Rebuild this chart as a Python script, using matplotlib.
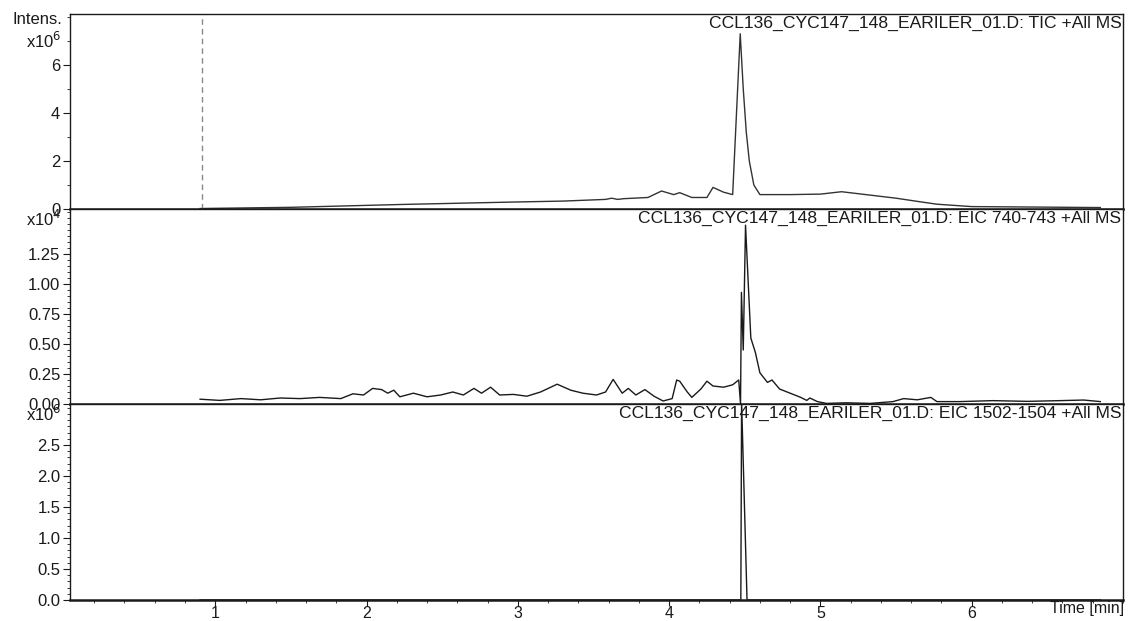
import numpy as np
import matplotlib
matplotlib.use("Agg")
import matplotlib.pyplot as plt
from matplotlib.ticker import MultipleLocator, FixedLocator, FormatStrFormatter

plt.rcParams['font.family'] = ['Liberation Sans', 'DejaVu Sans']

# TIC +All MS (intensity in 1e6)
tic_t = [0.90, 1.50, 2.24, 2.97, 3.30, 3.58, 3.62, 3.66, 3.70, 3.86, 3.95, 4.03, 4.07,
         4.15, 4.25, 4.29, 4.36, 4.42, 4.47, 4.49, 4.51, 4.53, 4.56, 4.60, 4.80, 5.00,
         5.14, 5.30, 5.50, 5.66, 5.77, 6.00, 6.44, 6.85]
tic_v = [0.02, 0.07, 0.19, 0.29, 0.33, 0.40, 0.45, 0.40, 0.43, 0.48, 0.75, 0.60, 0.68,
         0.48, 0.48, 0.90, 0.70, 0.60, 7.30, 5.00, 3.20, 2.00, 1.00, 0.60, 0.60, 0.62,
         0.72, 0.60, 0.45, 0.30, 0.20, 0.10, 0.08, 0.06]

# EIC 740-743 +All MS (intensity in 1e4)
eic1_t = [0.90, 1.03, 1.17, 1.30, 1.43, 1.56, 1.69, 1.83, 1.91, 1.98, 2.04, 2.10, 2.14,
          2.18, 2.22, 2.31, 2.40, 2.49, 2.57, 2.64, 2.71, 2.76, 2.82, 2.88, 2.97, 3.06,
          3.15, 3.26, 3.35, 3.43, 3.52, 3.58, 3.63, 3.69, 3.73, 3.78, 3.84, 3.90, 3.96,
          4.02, 4.05, 4.07, 4.12, 4.15, 4.21, 4.25, 4.29, 4.36, 4.42, 4.46, 4.472, 4.478,
          4.49, 4.505, 4.54, 4.57, 4.60, 4.65, 4.68, 4.73, 4.80, 4.87, 4.91, 4.93, 4.98,
          5.04, 5.17, 5.33, 5.48, 5.55, 5.64, 5.73, 5.77, 5.92, 6.14, 6.37, 6.58, 6.74, 6.85]
eic1_v = [0.04, 0.03, 0.045, 0.035, 0.05, 0.045, 0.055, 0.045, 0.085, 0.075, 0.13, 0.12,
          0.09, 0.115, 0.06, 0.09, 0.06, 0.075, 0.10, 0.075, 0.13, 0.09, 0.14, 0.075, 0.08,
          0.065, 0.10, 0.165, 0.115, 0.09, 0.075, 0.10, 0.205, 0.09, 0.13, 0.075, 0.12,
          0.065, 0.025, 0.045, 0.20, 0.19, 0.10, 0.055, 0.125, 0.19, 0.15, 0.14, 0.16,
          0.20, 0.0, 0.93, 0.45, 1.49, 0.55, 0.43, 0.26, 0.18, 0.20, 0.125, 0.09, 0.055,
          0.03, 0.05, 0.02, 0.005, 0.01, 0.005, 0.02, 0.045, 0.035, 0.055, 0.02, 0.02,
          0.028, 0.022, 0.028, 0.033, 0.02]

# EIC 1502-1504 +All MS (intensity in 1e6)
eic2_t = [0.90, 4.474, 4.479, 4.515, 6.85]
eic2_v = [0.0, 0.0, 3.20, 0.0, 0.0]

titles = ["CCL136_CYC147_148_EARILER_01.D: TIC +All MS",
          "CCL136_CYC147_148_EARILER_01.D: EIC 740-743 +All MS",
          "CCL136_CYC147_148_EARILER_01.D: EIC 1502-1504 +All MS"]

W, H = 1129, 621
fig = plt.figure(figsize=(W / 100, H / 100), dpi=100)

def box(top, bottom):
    return [70 / W, 1 - bottom / H, (1123 - 70) / W, (bottom - top) / H]

ax1 = fig.add_axes(box(14, 209))
ax2 = fig.add_axes(box(209, 404), sharex=ax1)
ax3 = fig.add_axes(box(404, 600), sharex=ax1)

ink = '#1a1a1a'
ax1.plot(tic_t, tic_v, color='#333333', lw=1.0)
ax2.plot(eic1_t, eic1_v, color=ink, lw=1.0)
ax3.plot(eic2_t, eic2_v, color=ink, lw=1.0)
ax1.axvline(0.91, color='#888888', lw=1.0, ls=(0, (4, 3)))

ax1.set_ylim(0, 8.125)
ax2.set_ylim(0, 1.625)
ax3.set_ylim(0, 3.16)
ax1.set_xlim(0.04, 7.0)

ax1.yaxis.set_major_locator(FixedLocator([0, 2, 4, 6]))
ax1.yaxis.set_minor_locator(MultipleLocator(1))
ax1.yaxis.set_major_formatter(FormatStrFormatter('%d'))
ax2.yaxis.set_major_locator(FixedLocator([0, 0.25, 0.5, 0.75, 1.0, 1.25]))
ax2.yaxis.set_minor_locator(MultipleLocator(0.05))
ax2.yaxis.set_major_formatter(FormatStrFormatter('%.2f'))
ax3.yaxis.set_major_locator(FixedLocator([0, 0.5, 1.0, 1.5, 2.0, 2.5]))
ax3.yaxis.set_minor_locator(MultipleLocator(0.1))
ax3.yaxis.set_major_formatter(FormatStrFormatter('%.1f'))
ax3.xaxis.set_major_locator(FixedLocator([1, 2, 3, 4, 5, 6]))
ax3.xaxis.set_minor_locator(MultipleLocator(0.2))
ax3.xaxis.set_major_formatter(FormatStrFormatter('%d'))

for ax, title in zip([ax1, ax2, ax3], titles):
    for s in ax.spines.values():
        s.set_color(ink)
        s.set_linewidth(1.0)
    ax.spines['bottom'].set_linewidth(1.8)
    ax.tick_params(axis='y', which='major', direction='out', length=5, width=0.8,
                   labelsize=12, pad=2, colors=ink)
    ax.tick_params(axis='y', which='minor', direction='out', length=2.5, width=0.6, colors=ink)
    ax.tick_params(axis='x', which='both', bottom=False, labelbottom=False)
    ax.text(0.9985, 0.99, title, transform=ax.transAxes, ha='right', va='top',
            fontsize=12.6, color=ink)

ax3.tick_params(axis='x', which='major', bottom=True, labelbottom=True, direction='out',
                length=4, width=0.8, labelsize=11.5, pad=0.5, colors=ink)
ax3.tick_params(axis='x', which='minor', bottom=True, direction='out', length=2.5,
                width=0.6, colors=ink)

fig.text(62 / W, 1 - 20 / H, 'Intens.', ha='right', va='center', fontsize=12, color=ink)
fig.text(62 / W, 1 - 41 / H, r'x10$^6$', ha='right', va='center', fontsize=12, color=ink)
fig.text(62 / W, 1 - 219 / H, r'x10$^4$', ha='right', va='center', fontsize=12, color=ink)
fig.text(62 / W, 1 - 414 / H, r'x10$^6$', ha='right', va='center', fontsize=12, color=ink)
fig.text(1124 / W, 1 - 609 / H, 'Time [min]', ha='right', va='center', fontsize=11.5, color=ink)

fig.savefig('out.png', dpi=100, facecolor='white')
